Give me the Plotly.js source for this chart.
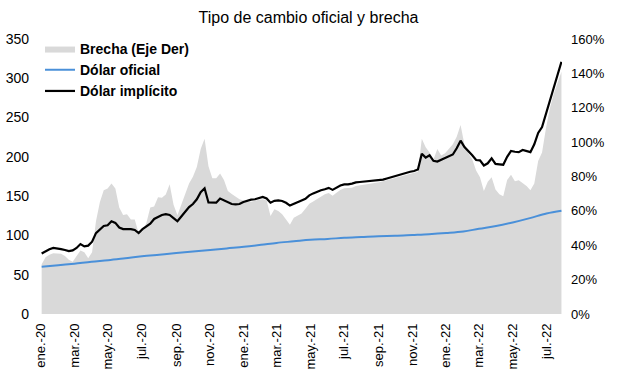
<!DOCTYPE html>
<html>
<head>
<meta charset="utf-8">
<script src="https://cdn.plot.ly/plotly-3.0.1.min.js"></script>
<style>html,body{margin:0;padding:0;background:#fff;}#chart{width:617px;height:383px;}</style>
</head>
<body>
<div id="chart"></div>
<script>
// Weekly series starting 2020-01-02
const weekStart = '2020-01-02';
const implicito = [77,80,82.5,84,83.5,82.5,81.5,80,81,84,89,86,87,92,103,107,112,113,118,116,
110,108,108,108,107,103,108,111,115,121,124,126,127,126,122,118,124,130,136,140,
146,155,160,142,141.5,141.7,147,144.5,141.5,140,139.6,140,142.5,144,145.5,146,147.5,149,147,141.7,
144,144.5,143.8,141.5,138,140.5,143,144.5,146.5,151,153.5,155.7,157.5,158.7,160.5,158,161,163.5,165,165,
166,167.5,168,168.5,169.5,169.7,169.8,170.3,171,172.5,174,175.6,177,178,179.5,181,182,184,204,199,
202,195,194,196,198,200.5,203,211,220.6,212.5,207.5,202,196,195.5,189,191.8,198,191,190.5,190,
200,207.5,206.5,206,208.7,207.8,206,216,230.5,238,255,270,288,305,321];
const brecha = [29,33,34.5,35.3,35.2,35,33.8,31.5,30.4,34,37,36,32.4,36,54,65,72,73,76,73,
62,57.6,58,55,55,47,48,53,62,62.5,68,67.7,69.5,75.5,63.5,57.5,64,70.5,76,79.8,
85.5,96,102,86,79,79,81.8,78,71.5,69.8,68,66.7,66,65.3,65.3,66,66.5,66.7,66,57,
61,60,58,55,52,56,57.2,58.5,61.2,64.2,65.4,67,68.6,69.7,70.4,68.8,70.5,72.2,73.1,73.1,
73.4,74.5,74.8,75.2,75.6,75.8,76.1,76.7,77.3,77.9,78.4,79,79.5,80.1,80.7,81.2,81.9,82.8,102,97,
94,89.8,96,92.2,93.5,96.3,98.8,103.2,110,98.5,93.5,90,83.5,79.5,71.5,77,79.5,72.5,69.7,68.5,
78,81,77.2,77.8,76,74.5,72,76,89,94,108,119.5,128,134.5,141];

// Official rate, monthly
const oficialDates = ['2020-01-02','2020-02-01','2020-03-01','2020-04-01','2020-05-01','2020-06-01','2020-07-01','2020-08-01','2020-09-01','2020-10-01','2020-11-01','2020-12-01',
'2021-01-01','2021-02-01','2021-03-01','2021-04-01','2021-05-01','2021-06-01','2021-07-01','2021-08-01','2021-09-01','2021-10-01','2021-11-01','2021-12-01',
'2022-01-01','2022-02-01','2022-03-01','2022-04-01','2022-05-01','2022-06-01','2022-07-01','2022-07-28'];
const oficial = [60,62,64,66.5,68.5,71,73.5,75.5,77.5,79.5,81.5,83.5,
85.5,88,90.5,92.5,94.5,95.5,97,98,99,99.5,100.5,101.5,
103,105,108.5,112,116.5,122,128,131.5];

const tickVals = ['2020-01-01','2020-03-01','2020-05-01','2020-07-01','2020-09-01','2020-11-01','2021-01-01','2021-03-01','2021-05-01','2021-07-01','2021-09-01','2021-11-01','2022-01-01','2022-03-01','2022-05-01','2022-07-01'];
const tickText = ['ene.-20','mar.-20','may.-20','jul.-20','sep.-20','nov.-20','ene.-21','mar.-21','may.-21','jul.-21','sep.-21','nov.-21','ene.-22','mar.-22','may.-22','jul.-22'];

function weeklyDates(start, n) {
  const out = [];
  const d0 = new Date(start + 'T00:00:00Z');
  for (let i = 0; i < n; i++) {
    const d = new Date(d0.getTime() + i * 7 * 86400000);
    out.push(d.toISOString().slice(0, 10));
  }
  return out;
}
const weeks = weeklyDates(weekStart, implicito.length);

const FONT = 'Liberation Sans, Arial, sans-serif';

// Gray area on the base axis (right side), price lines on the overlaying axis (left side) so they draw on top
const traces = [
  {x: weeks, y: brecha, name: 'Brecha (Eje Der)', type: 'scatter', mode: 'lines',
   yaxis: 'y', fill: 'tozeroy', fillcolor: '#d9d9d9', line: {width: 0, color: '#d9d9d9'},
   legendgroup: 'a'},
  {x: oficialDates, y: oficial, name: 'Dólar oficial', type: 'scatter', mode: 'lines', yaxis: 'y2',
   line: {color: '#4a90d9', width: 2, shape: 'spline'}, legendgroup: 'b'},
  {x: weeks, y: implicito, name: 'Dólar implícito', type: 'scatter', mode: 'lines', yaxis: 'y2',
   line: {color: '#000000', width: 2.2}, legendgroup: 'c'}
];

const layout = {
  width: 617, height: 383,
  margin: {l: 40, r: 55, t: 39, b: 69},
  paper_bgcolor: '#fff', plot_bgcolor: '#fff',
  font: {family: FONT, size: 13, color: '#000'},
  title: {text: 'Tipo de cambio oficial y brecha', x: 0.5, xanchor: 'center', y: 0.97, yanchor: 'top',
          font: {family: FONT, size: 16, color: '#000'}},
  showlegend: true,
  legend: {x: 0.0, y: 1.022, xanchor: 'left', yanchor: 'top', bgcolor: 'rgba(0,0,0,0)',
           font: {family: FONT, size: 14, color: '#000', weight: 'bold'}, itemwidth: 30, tracegroupgap: 2,
           traceorder: 'normal'},
  xaxis: {type: 'date', range: ['2019-12-30', '2022-07-29'], tickmode: 'array', tickvals: tickVals, ticktext: tickText,
          tickangle: -90, showgrid: false, zeroline: false, showline: false, ticks: '', ticklabelstandoff: 6,
          tickfont: {family: FONT, size: 13, color: '#000'}, automargin: false},
  yaxis: {range: [0, 160], dtick: 20, side: 'right', ticksuffix: '%', showgrid: false,
          zeroline: false, showline: false, ticks: '', ticklabelstandoff: 8,
          tickfont: {family: FONT, size: 13, color: '#000'}, automargin: false},
  yaxis2: {range: [0, 350], dtick: 50, overlaying: 'y', side: 'left', showgrid: false, zeroline: false, showline: false, ticks: '',
          ticklabelstandoff: 10, tickfont: {family: FONT, size: 14, color: '#000'}, automargin: false},
  hovermode: false
};

Plotly.newPlot('chart', traces, layout, {displayModeBar: false, staticPlot: true});
</script>
</body>
</html>
